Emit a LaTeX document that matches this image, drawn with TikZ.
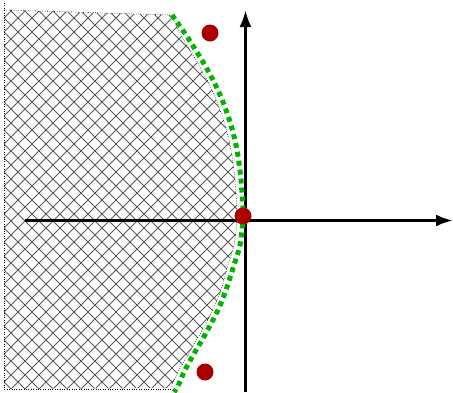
\documentclass[tikz,border=0pt]{standalone}
\usetikzlibrary{arrows.meta}
\definecolor{dotred}{RGB}{170,0,0}
\definecolor{curvegreen}{RGB}{0,180,0}
\begin{document}
\begin{tikzpicture}[x=1pt,y=-1pt,
  axis/.style={line width=3pt,-{Latex[length=17pt,width=12pt]}},
  pole/.style={circle,fill=dotred,inner sep=0pt,minimum size=17pt},
  boundary/.style={curvegreen,line width=5pt,dash pattern=on 5pt off 4pt},
  hatchline/.style={black!65,line width=0.9pt},
  edge/.style={black,line width=0.6pt,dash pattern=on 0.6pt off 1.8pt}]
\useasboundingbox (0,0) rectangle (453,392);
% hatched region
\begin{scope}
  \clip (4,10) -- (172,15) -- plot[smooth] coordinates {(172,15) (180,33) (197,62) (208,82) (217,102) (225,125) (231,150) (235,180) (237,216) (234,245) (228,265) (221,290) (212,312) (200,334) (189,353) (179,370) (171,388)} -- (4,389) -- cycle;
  \foreach \k in {-406,-392,...,500} {
    \draw[hatchline] (\k,0) -- ++(400,400);
    \draw[hatchline] (\k,400) -- ++(400,-400);
  }
\end{scope}
\draw[edge] (4,3) -- (4,389) -- (171,389);
\draw[edge] (4,10) -- (172,15) -- plot[smooth] coordinates {(172,15) (180,33) (197,62) (208,82) (217,102) (225,125) (231,150) (235,180) (237,216) (234,245) (228,265) (221,290) (212,312) (200,334) (189,353) (179,370) (171,388)};
% axes
\coordinate (xs) at (25,220.5);
\coordinate (xe) at (453,220.5);
\coordinate (ys) at (245.5,392);
\coordinate (ye) at (245.5,10);
\draw[axis] (xs) -- (xe);
\draw[axis] (ys) -- (ye);
% green boundary curve
\draw[boundary] plot[smooth] coordinates {(172,15) (186,35) (203,62) (214,82) (223,102) (231,125) (237,150) (241,180) (243,216) (240,245) (234,265) (226,290) (218,310) (206,333) (195,352) (185,370) (178,386) (174,392)};
% poles
\node[pole] (p1) at (210,33) {};
\node[pole] (p2) at (243,216) {};
\node[pole] (p3) at (205,372) {};
\end{tikzpicture}
\end{document}
